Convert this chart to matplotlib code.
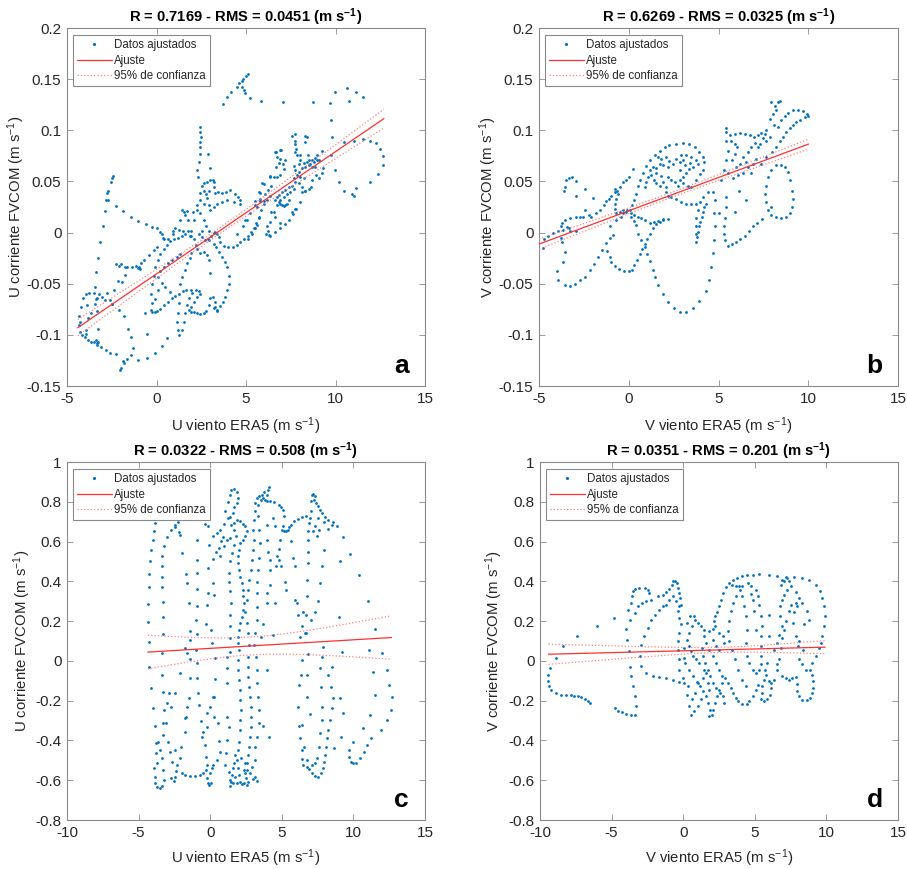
import numpy as np
import matplotlib
matplotlib.use("Agg")
import matplotlib.pyplot as plt
from matplotlib.ticker import FuncFormatter, MultipleLocator
from matplotlib.lines import Line2D

plt.rcParams['font.family'] = ['Liberation Sans', 'DejaVu Sans']
plt.rcParams['mathtext.fontset'] = 'custom'
plt.rcParams['mathtext.rm'] = 'Liberation Sans'
plt.rcParams['mathtext.it'] = 'Liberation Sans:italic'
plt.rcParams['mathtext.bf'] = 'Liberation Sans:bold'
plt.rcParams['axes.unicode_minus'] = False

# ---------------------------------------------------------------- data
# (a) U component: ERA5 wind (m/s) vs FVCOM current (m/s)
u_sup_pts = [
    (-2.42, 0.055), (-2.47, 0.053), (-2.56, 0.049), (-2.70, 0.041), (-2.75, 0.039), (-2.71, 0.032),
    (-2.83, 0.032), (-2.88, 0.021), (-3.00, 0.006), (-3.18, -0.009), (-3.29, -0.025), (-3.38, -0.039),
    (-3.42, -0.053), (-3.40, -0.065), (-3.33, -0.077), (-3.29, -0.094), (-3.27, -0.107),
    (-2.27, 0.026), (-1.88, 0.021), (-1.45, 0.015), (-1.04, 0.011), (-0.58, 0.008), (-0.24, 0.005),
    (0.00, 0.004), (0.19, 0.001), (0.32, -0.001), (0.35, -0.005), (0.41, -0.006), (0.65, -0.006), (0.93, 0.002),
    (-2.27, -0.031), (-2.12, -0.033), (-1.97, -0.031), (-1.78, -0.034), (-1.64, -0.034), (-1.36, -0.034),
    (-1.12, -0.033), (-0.97, -0.034), (-0.93, -0.036), (-1.06, -0.035), (-0.86, -0.030), (-0.71, -0.027),
    (-0.43, -0.022), (-0.15, -0.017), (0.04, -0.014),
    (-1.78, -0.041), (-2.14, -0.047), (-2.38, -0.056), (-2.57, -0.066), (-2.47, -0.070), (-2.10, -0.076),
    (-1.82, -0.082), (-1.60, -0.094), (-1.45, -0.102), (-1.30, -0.113), (-1.45, -0.120), (-1.64, -0.124),
    (-1.82, -0.128), (-1.97, -0.132), (-2.04, -0.134), (-1.86, -0.126), (-1.02, -0.125), (-0.52, -0.123),
    (-0.11, -0.118), (0.28, -0.111), (0.60, -0.103),
    (-4.33, -0.090), (-4.31, -0.082), (-4.24, -0.073), (-4.13, -0.064), (-3.96, -0.060), (-3.77, -0.059),
    (-3.50, -0.059), (-3.22, -0.060), (-3.03, -0.063), (-2.90, -0.066), (-2.75, -0.059), (-2.50, -0.070),
    (-4.28, -0.097), (-4.18, -0.100), (-4.02, -0.102), (-3.83, -0.105), (-3.65, -0.107), (-3.48, -0.107),
    (-3.33, -0.108), (-3.40, -0.105), (-3.33, -0.110), (-3.92, -0.095), (-3.96, -0.099), (-3.81, -0.084),
    (-3.68, -0.079), (-3.44, -0.070), (-3.31, -0.064), (-3.12, -0.112), (-2.84, -0.115), (-2.57, -0.118),
    (-2.29, -0.119), (-4.30, -0.087), (-3.87, -0.071),
    (-0.54, -0.099), (-0.63, -0.079), (-0.11, -0.065), (0.11, -0.056), (-1.93, -0.048),
    (2.42, 0.103), (2.45, 0.098), (2.51, 0.093), (2.45, 0.089), (2.45, 0.084), (2.42, 0.077), (2.85, 0.077),
    (2.38, 0.069), (2.27, 0.061), (2.97, 0.063), (2.32, 0.054), (2.55, 0.046), (2.68, 0.048), (2.83, 0.049),
    (3.01, 0.051), (3.14, 0.051), (3.20, 0.049), (3.20, 0.045), (2.92, 0.041), (2.64, 0.041), (2.45, 0.039),
    (2.77, 0.038), (2.83, 0.034), (3.25, 0.039), (3.42, 0.040), (3.66, 0.039), (3.90, 0.040), (4.13, 0.042),
    (4.37, 0.038), (4.54, 0.035), (4.68, 0.032), (4.65, 0.028), (4.31, 0.030), (3.94, 0.032), (3.66, 0.030),
    (3.38, 0.028), (3.20, 0.025), (3.01, 0.022), (2.92, 0.027), (2.68, 0.028), (2.45, 0.032), (2.27, 0.027),
    (2.05, 0.020), (1.71, 0.021), (1.52, 0.020), (1.62, 0.017), (1.75, 0.012), (1.90, 0.002), (1.95, -0.003),
    (2.08, -0.006), (2.19, -0.012), (2.27, -0.016), (2.42, -0.020), (2.71, -0.007), (2.86, -0.006),
    (3.07, -0.003), (3.20, 0.000), (3.29, 0.001), (3.38, -0.001), (3.48, -0.004), (3.57, -0.009),
    (3.75, -0.013), (4.00, -0.014), (4.26, -0.014), (4.50, -0.012), (4.68, -0.009), (4.87, -0.006),
    (5.11, -0.003), (5.28, 0.001), (5.43, 0.004), (5.58, 0.009), (5.71, 0.015), (5.86, 0.022), (5.99, 0.028),
    (6.17, 0.032), (6.36, 0.036),
    (1.93, -0.020), (1.86, -0.025), (1.71, -0.030), (1.58, -0.037), (1.43, -0.043), (1.34, -0.050),
    (1.28, -0.060), (1.25, -0.069), (1.19, -0.079), (1.15, -0.087), (1.21, -0.095), (1.28, -0.100),
    (1.40, -0.095), (1.52, -0.087), (1.62, -0.079), (1.71, -0.071), (1.80, -0.064), (1.99, -0.059),
    (2.18, -0.056), (2.40, -0.057), (2.42, -0.060), (2.27, -0.063), (2.08, -0.068), (1.90, -0.073),
    (1.80, -0.076), (1.90, -0.078), (2.08, -0.078), (2.27, -0.079), (2.45, -0.080), (2.64, -0.079),
    (2.77, -0.077), (2.92, -0.071), (3.01, -0.064), (3.16, -0.063), (3.25, -0.068), (3.29, -0.073),
    (3.38, -0.076), (3.20, -0.074),
    (-0.33, -0.076), (-0.24, -0.078), (-0.11, -0.078), (0.04, -0.077), (0.22, -0.075), (0.41, -0.071),
    (0.63, -0.068), (0.87, -0.064), (1.06, -0.062), (1.49, -0.057), (1.67, -0.056), (1.90, -0.056),
    (-0.24, -0.069), (-0.30, -0.060), (-0.24, -0.050), (-0.15, -0.042), (-0.06, -0.034), (0.07, -0.027),
    (0.22, -0.021), (0.41, -0.016), (0.60, -0.012), (0.78, -0.008), (0.97, -0.006), (1.21, -0.005),
    (1.43, -0.003), (1.62, -0.001), (1.77, 0.002),
    (1.34, -0.021), (1.12, -0.024), (0.87, -0.027), (0.65, -0.030), (0.41, -0.034), (0.19, -0.038),
    (0.07, -0.043), (0.28, -0.049), (0.50, -0.053), (0.78, -0.058),
    (1.40, 0.022), (1.30, 0.012), (1.06, 0.004), (0.93, -0.001), (1.25, 0.003), (1.49, 0.002), (1.86, -0.003),
    (2.08, 0.012), (2.27, 0.022), (2.45, 0.019), (2.68, 0.012), (2.79, 0.006), (2.96, 0.002), (2.55, 0.002),
    (2.36, -0.001), (2.55, -0.004), (2.92, -0.007), (3.20, -0.011), (3.35, -0.014), (3.51, -0.019),
    (3.66, -0.024), (3.81, -0.029), (3.94, -0.034), (4.03, -0.042), (4.03, -0.050), (3.94, -0.056),
    (3.85, -0.063), (3.72, -0.068), (3.57, -0.072), (3.38, -0.077), (3.01, -0.040), (2.96, -0.027),
    (2.83, -0.022), (2.68, -0.019),
    (5.24, 0.019), (5.52, 0.027), (5.80, 0.033), (6.04, 0.038), (6.23, 0.042), (6.40, 0.046), (6.54, 0.054),
    (6.69, 0.064), (6.92, 0.072), (6.95, 0.081), (6.65, 0.079), (6.36, 0.054), (5.91, 0.048), (5.61, 0.025),
    (5.06, 0.012), (4.83, 0.006), (4.50, -0.001),
    (7.57, 0.094), (7.76, 0.096), (7.72, 0.090), (7.76, 0.087), (7.80, 0.082), (7.76, 0.079), (7.85, 0.076),
    (8.04, 0.076), (8.28, 0.094), (8.41, 0.093), (8.28, 0.089), (8.47, 0.076), (8.50, 0.071), (8.69, 0.071),
    (8.84, 0.073), (8.97, 0.071), (8.78, 0.069), (8.60, 0.067), (8.41, 0.069), (8.22, 0.068), (8.04, 0.071),
    (7.94, 0.067), (7.67, 0.065), (7.76, 0.061), (7.94, 0.059), (8.13, 0.063), (8.32, 0.064), (8.50, 0.066),
    (8.69, 0.064), (7.85, 0.056), (8.04, 0.054), (8.22, 0.053), (7.67, 0.053), (7.76, 0.049), (7.57, 0.046),
    (7.39, 0.045), (7.20, 0.042), (7.01, 0.040), (6.83, 0.037), (6.73, 0.035), (6.64, 0.032), (6.92, 0.032),
    (7.11, 0.035), (7.29, 0.038), (7.48, 0.040), (7.67, 0.043), (7.94, 0.048), (8.13, 0.045), (8.32, 0.041),
    (9.06, 0.053), (9.25, 0.058), (9.28, 0.063), (9.25, 0.080), (8.97, 0.076), (9.10, 0.071), (8.87, 0.064),
    (6.64, 0.079), (6.92, 0.081), (6.73, 0.074), (6.83, 0.068), (7.05, 0.067), (7.20, 0.071), (7.14, 0.062),
    (6.92, 0.056), (6.73, 0.054), (6.36, 0.055), (6.03, 0.047), (5.71, 0.040), (5.80, 0.039), (5.49, 0.031),
    (5.80, 0.031), (5.99, 0.031), (6.83, 0.030), (6.73, 0.027), (6.92, 0.028), (7.01, 0.027), (7.11, 0.026),
    (7.20, 0.027), (7.29, 0.028), (7.39, 0.032), (6.55, 0.020), (6.42, 0.020), (6.60, 0.015), (6.36, 0.010),
    (6.23, 0.002), (6.14, -0.001), (6.27, -0.002), (6.36, -0.003), (6.64, 0.001), (6.88, 0.004), (7.16, 0.008),
    (7.39, 0.012), (7.63, 0.018), (7.81, 0.023), (8.04, 0.030), (8.32, 0.041), (8.69, 0.051), (8.91, 0.056),
    (5.34, -0.001), (5.49, 0.004), (5.62, 0.007), (5.75, 0.014), (5.12, -0.006), (4.97, 0.012), (6.18, 0.006),
    (6.92, 0.009), (7.57, 0.020), (7.76, 0.023), (8.13, 0.040), (8.50, 0.043), (8.65, 0.045),
    (9.95, 0.061), (10.18, 0.049), (10.49, 0.041), (10.92, 0.038), (11.01, 0.036), (11.16, 0.044),
    (11.91, 0.049), (12.37, 0.057), (12.63, 0.066), (12.65, 0.075), (12.50, 0.082), (12.28, 0.088),
    (11.94, 0.090), (11.52, 0.091), (11.01, 0.090), (10.46, 0.089), (9.80, 0.093), (9.77, 0.110),
    (9.71, 0.127), (9.99, 0.137), (10.64, 0.141), (10.73, 0.129), (11.14, 0.137), (11.53, 0.133),
    (8.73, 0.128), (7.05, 0.128), (5.86, 0.129), (5.21, 0.132), (4.97, 0.136), (9.77, 0.076),
    (3.70, 0.126), (3.93, 0.133), (4.17, 0.137), (4.48, 0.142), (4.61, 0.146), (4.76, 0.148), (4.86, 0.150),
    (4.99, 0.153), (5.13, 0.155), (4.80, 0.142), (4.91, 0.139),
]

# (b) V component
v_sup_pts = [
    (-3.57, 0.045), (-3.61, 0.041), (-3.48, 0.051), (-3.33, 0.053), (-3.15, 0.054), (-2.96, 0.050),
    (-2.92, 0.036), (-2.46, 0.043), (-1.99, 0.034), (-2.46, 0.022), (-2.92, 0.015), (-3.30, 0.014),
    (-3.57, 0.012), (-3.72, 0.009), (-3.76, 0.006), (-3.67, 0.003), (-3.44, 0.005), (-3.35, 0.004),
    (-3.26, 0.002), (-2.92, 0.002), (-2.74, 0.015), (-2.55, 0.015), (-2.22, 0.017), (-2.09, 0.015),
    (-1.81, 0.019), (-1.62, 0.022), (-1.40, 0.027), (-1.25, 0.031), (-1.10, 0.033), (-0.97, 0.036),
    (-0.79, 0.040), (-0.66, 0.041), (-0.51, 0.045), (-0.33, 0.049), (-0.18, 0.051), (0.01, 0.054), (0.23, 0.062),
    (-4.80, -0.015), (-4.73, -0.006), (-4.48, -0.003), (-4.22, 0.000), (-3.95, 0.002), (-3.76, -0.005),
    (-3.72, -0.009), (-3.57, -0.019), (-3.67, -0.029), (-3.98, -0.038), (-3.92, -0.046), (-3.57, -0.051),
    (-3.30, -0.052), (-3.02, -0.050), (-2.74, -0.046), (-2.46, -0.043), (-2.18, -0.037), (-1.96, -0.031),
    (-1.72, -0.024), (-1.48, -0.017), (-1.25, -0.010), (-1.07, -0.005), (-0.88, -0.002),
    (-1.20, -0.018), (-1.07, -0.024), (-0.97, -0.029), (-0.79, -0.033), (-0.55, -0.036), (-0.27, -0.038),
    (0.00, -0.038), (0.19, -0.037), (0.32, -0.032), (0.45, -0.027), (0.60, -0.021), (0.73, -0.016),
    (0.88, -0.011), (1.01, -0.006), (1.16, -0.001), (1.35, 0.004), (1.53, 0.008), (1.72, 0.010), (1.90, 0.012),
    (2.18, 0.013),
    (0.51, -0.001), (0.70, -0.007), (0.88, -0.014), (1.03, -0.021), (1.16, -0.028), (1.35, -0.037),
    (1.48, -0.043), (1.63, -0.051), (1.90, -0.060), (2.18, -0.068), (2.50, -0.074), (2.83, -0.078),
    (3.17, -0.078), (3.57, -0.074), (3.94, -0.067), (4.28, -0.057), (4.47, -0.046), (4.56, -0.034),
    (4.69, -0.020), (4.75, -0.007), (4.79, 0.006), (4.75, 0.019), (4.79, 0.032), (4.69, 0.040), (4.41, 0.040),
    (4.13, 0.035), (3.76, 0.028), (3.48, 0.028), (3.20, 0.028), (2.92, 0.030), (2.65, 0.033), (2.37, 0.035),
    (2.18, 0.036), (2.09, 0.040), (2.09, 0.045),
    (0.79, 0.058), (0.97, 0.065), (1.20, 0.071), (1.44, 0.076), (1.72, 0.080), (2.00, 0.084), (2.27, 0.086),
    (2.65, 0.087), (3.02, 0.088), (3.35, 0.087), (3.67, 0.084), (3.94, 0.079), (4.13, 0.074), (4.22, 0.069),
    (2.92, 0.076), (3.20, 0.076), (3.48, 0.074), (3.72, 0.071), (3.85, 0.067), (3.02, 0.071), (2.83, 0.069),
    (2.65, 0.072), (2.46, 0.067), (2.18, 0.064), (1.90, 0.066), (1.72, 0.067), (1.53, 0.063), (1.35, 0.064),
    (1.16, 0.061), (1.07, 0.054), (0.97, 0.049), (0.88, 0.045), (0.64, 0.051), (0.51, 0.046), (0.42, 0.038),
    (0.32, 0.032), (0.19, 0.027), (0.05, 0.022), (-0.14, 0.020), (-0.33, 0.019), (-0.51, 0.020),
    (-0.70, 0.019), (-0.79, 0.023), (-0.75, 0.028), (-0.70, 0.033), (-0.60, 0.038), (-0.79, 0.043),
    (0.14, 0.019), (0.32, 0.017), (0.51, 0.015), (0.70, 0.014), (0.88, 0.012), (1.16, 0.009), (1.38, 0.010),
    (1.62, 0.011), (1.90, 0.013),
    (1.53, 0.058), (1.81, 0.055), (1.90, 0.049), (1.72, 0.046), (1.53, 0.048), (1.38, 0.051), (1.25, 0.056),
    (2.18, 0.054), (2.37, 0.051), (2.55, 0.049), (2.74, 0.046), (2.87, 0.051), (3.02, 0.054), (3.20, 0.058),
    (3.35, 0.062), (3.57, 0.064), (2.83, 0.061), (3.11, 0.066), (3.39, 0.068), (2.27, 0.070), (2.05, 0.074),
    (1.81, 0.072), (1.62, 0.074), (3.02, 0.048), (3.30, 0.046), (3.48, 0.045), (3.76, 0.051), (3.98, 0.057),
    (4.13, 0.061),
    (5.43, 0.102), (5.40, 0.098), (5.43, 0.090), (5.53, 0.080), (5.43, 0.071), (5.29, 0.061), (5.16, 0.051),
    (5.62, 0.095), (5.90, 0.096), (6.18, 0.097), (6.46, 0.096), (6.74, 0.095), (6.95, 0.093), (7.20, 0.095),
    (7.38, 0.097), (7.57, 0.096), (7.47, 0.092), (7.29, 0.087), (7.20, 0.084), (7.01, 0.088), (6.83, 0.084),
    (6.65, 0.079), (6.36, 0.074), (6.18, 0.067), (5.95, 0.064), (5.77, 0.071), (5.90, 0.077), (6.03, 0.084),
    (5.90, 0.087), (5.71, 0.090),
    (5.53, 0.058), (5.80, 0.053), (6.08, 0.056), (6.36, 0.058), (6.64, 0.064), (6.55, 0.069), (6.92, 0.067),
    (7.10, 0.072), (6.83, 0.058),
    (7.94, 0.128), (8.12, 0.124), (8.31, 0.128), (8.40, 0.129), (8.22, 0.120), (8.03, 0.116), (7.88, 0.111),
    (8.07, 0.105), (8.31, 0.103), (8.50, 0.110), (8.68, 0.114), (8.87, 0.117), (9.15, 0.120), (9.42, 0.120),
    (9.70, 0.119), (9.93, 0.116), (9.98, 0.114), (9.80, 0.113), (9.52, 0.110), (9.33, 0.108), (9.15, 0.105),
    (8.96, 0.102), (8.77, 0.098), (8.59, 0.093), (8.40, 0.090), (8.22, 0.084), (8.00, 0.079), (7.66, 0.074),
    (7.38, 0.067), (7.85, 0.093), (7.66, 0.100), (7.66, 0.090),
    (8.18, 0.066), (7.94, 0.061), (7.75, 0.054), (7.62, 0.046), (7.57, 0.038), (7.62, 0.030), (7.75, 0.022),
    (7.94, 0.017), (8.22, 0.015), (8.50, 0.014), (8.77, 0.015), (8.96, 0.019), (9.11, 0.025), (9.15, 0.033),
    (9.11, 0.041), (9.00, 0.051), (8.87, 0.059), (8.68, 0.064), (8.46, 0.066), (7.94, 0.025),
    (5.53, -0.013), (5.77, -0.011), (5.99, -0.009), (6.21, -0.006), (6.45, -0.003), (6.68, 0.002),
    (6.92, 0.006), (7.16, 0.009), (7.42, 0.013), (5.34, -0.007), (5.29, -0.001), (5.29, 0.006),
    (5.34, 0.014), (5.40, 0.025), (5.43, 0.035),
    (3.76, -0.009), (3.81, -0.004), (3.85, 0.001), (3.90, 0.006), (3.98, 0.010), (4.07, 0.015), (4.13, 0.020),
    (4.22, 0.025), (4.32, 0.028), (3.76, -0.001), (3.72, 0.006), (3.76, 0.014), (3.85, 0.022), (3.98, 0.030),
    (5.02, 0.019), (5.90, 0.020), (6.55, 0.032), (6.14, 0.041),
    (-0.10, 0.022), (-0.33, 0.022), (0.14, 0.015), (0.29, 0.011), (0.42, 0.007), (-0.42, 0.015),
    (-0.70, 0.012), (-1.07, 0.006),
]

# (c) U component, bottom layer
u_fondo_pts = [
    (-4.37, 0.195), (-4.35, 0.285), (-4.28, 0.371), (-4.26, 0.438), (-4.19, 0.500), (-4.12, 0.559),
    (-4.02, 0.609), (-3.95, 0.651), (-3.84, 0.693), (-3.72, 0.718), (-3.53, 0.735), (-3.26, 0.738),
    (-2.95, 0.735), (-2.67, 0.723), (-4.30, 0.094), (-4.26, -0.029), (-4.14, -0.134), (-4.00, -0.237),
    (-3.88, -0.327), (-3.79, -0.414), (-3.77, -0.465), (-3.72, -0.515), (-3.91, -0.540), (-3.88, -0.582),
    (-3.84, -0.616), (-3.72, -0.633), (-3.53, -0.641), (-3.37, -0.629), (-3.26, -0.599), (-3.33, -0.549),
    (-3.37, -0.490), (-3.53, -0.448), (-3.67, -0.406), (-3.33, -0.372), (-3.30, -0.314), (-3.26, -0.247),
    (-3.30, -0.154), (-3.37, -0.070), (-3.37, 0.039), (-3.33, 0.136), (-3.30, 0.223), (-3.30, 0.294),
    (-3.35, 0.374), (-3.35, 0.424), (-3.37, 0.475), (-3.37, 0.529), (-3.26, 0.576), (-3.02, 0.622),
    (-2.74, 0.659), (-2.44, 0.685), (-2.26, 0.700), (-1.98, 0.718), (-1.79, 0.723), (-1.63, 0.727),
    (-3.09, -0.314), (-2.95, -0.406), (-2.79, -0.456), (-2.67, -0.507), (-2.72, -0.591), (-2.56, -0.602),
    (-2.44, -0.582), (-2.37, -0.552), (-2.33, -0.523), (-1.98, -0.565), (-1.74, -0.574), (-1.40, -0.579),
    (-1.05, -0.579), (-0.70, -0.574), (-0.47, -0.565), (-0.28, -0.549), (-0.19, -0.591), (-0.12, -0.616),
    (-0.05, -0.624), (0.05, -0.612), (-2.74, -0.230), (-2.91, -0.163), (-3.02, -0.213),
    (-2.09, -0.490), (-2.02, -0.431), (-1.79, -0.356), (-1.67, -0.280), (-1.63, -0.230), (-1.51, -0.188),
    (-1.44, -0.087), (-1.40, 0.008), (-1.44, 0.148), (-1.51, 0.290), (-1.63, 0.391), (-1.67, 0.438),
    (-1.98, 0.542), (-2.09, 0.634), (-2.21, 0.646), (-2.44, 0.671), (-1.74, 0.727), (-1.51, 0.752),
    (-1.28, 0.763), (-1.05, 0.760), (-0.81, 0.747), (-0.51, 0.718), (-0.35, 0.688),
    (-0.93, 0.609), (-0.93, 0.508), (-0.93, 0.441), (-0.93, 0.361), (-0.93, 0.277), (-0.98, 0.206),
    (-0.93, 0.136), (-0.98, 0.055), (-0.93, -0.012), (-0.93, -0.087), (-0.88, -0.163), (-0.81, -0.221),
    (-0.65, -0.300), (-0.47, -0.356), (-0.35, -0.423), (-0.28, -0.482), (-0.19, -0.523),
    (-2.44, -0.448), (-1.79, -0.288), (-2.44, -0.163), (-2.09, -0.062), (-1.63, 0.039), (-1.44, 0.106),
    (-1.79, 0.064),
    (-0.12, 0.676), (-0.05, 0.584), (-0.12, 0.466), (-0.12, 0.341), (-0.19, 0.279), (-0.30, 0.186),
    (0.28, 0.332), (0.23, 0.394), (0.23, 0.512), (0.42, 0.545), (0.58, 0.567), (0.74, 0.601), (0.88, 0.621),
    (0.47, 0.643), (0.70, 0.659), (0.23, 0.626), (0.05, 0.156), (0.12, 0.089), (0.35, 0.013), (0.35, -0.092),
    (0.28, -0.180), (0.19, -0.180), (0.00, -0.230), (-0.23, -0.263), (-0.23, -0.331), (-0.58, -0.381),
    (0.30, -0.284), (0.51, -0.314), (0.58, -0.401), (0.70, -0.456), (0.47, -0.498), (0.23, -0.523),
    (0.12, -0.540), (0.00, -0.565),
    (0.70, 0.525), (0.93, 0.576), (1.16, 0.609), (1.35, 0.617), (0.98, 0.690), (1.26, 0.718), (1.05, 0.752),
    (1.21, 0.797), (1.35, 0.836), (1.47, 0.861), (1.67, 0.864), (1.86, 0.847), (1.93, 0.819), (1.86, 0.794),
    (1.67, 0.773), (1.56, 0.743), (1.35, 0.723), (1.47, 0.685), (1.63, 0.659), (1.81, 0.626), (1.63, 0.584),
    (1.51, 0.542), (1.40, 0.500), (1.28, 0.441), (1.28, 0.399), (1.40, 0.349), (1.44, 0.290), (1.40, 0.232),
    (1.40, 0.173), (1.40, 0.114), (1.40, 0.047), (1.16, 0.022), (1.16, -0.037), (1.16, -0.112),
    (1.16, -0.280), (1.28, -0.331), (1.16, -0.398), (1.12, -0.465), (1.00, -0.523), (1.28, -0.557),
    (1.35, -0.599), (1.40, -0.629), (1.44, -0.607), (1.51, -0.574), (1.58, -0.540),
    (1.63, 0.693), (1.86, 0.710), (2.09, 0.701), (2.28, 0.688), (2.44, 0.676), (2.56, 0.651), (2.44, 0.629),
    (2.28, 0.609), (2.09, 0.592), (1.98, 0.559), (1.91, 0.525), (1.91, 0.492), (1.98, 0.458), (2.09, 0.424),
    (2.21, 0.391), (2.26, 0.357), (2.28, 0.324), (2.33, 0.290), (2.28, 0.257), (2.21, 0.223), (2.09, 0.190),
    (1.98, 0.156), (1.91, 0.122), (1.91, 0.089), (1.98, 0.055), (1.91, 0.005), (1.91, -0.045), (1.98, -0.096),
    (2.05, -0.146), (2.09, -0.196), (2.14, -0.247), (2.09, -0.297), (2.05, -0.347), (1.98, -0.406),
    (1.91, -0.448), (1.86, -0.498), (1.91, -0.540), (1.98, -0.574), (2.09, -0.607), (2.21, -0.619),
    (2.37, -0.616), (2.51, -0.591), (2.56, -0.549), (2.60, -0.515), (2.67, -0.473), (2.72, -0.431),
    (2.79, -0.381), (2.84, -0.331), (2.84, -0.280), (2.84, -0.230), (2.79, -0.180), (2.74, -0.129),
    (2.67, -0.079), (2.67, -0.029), (2.67, 0.022), (2.74, 0.081), (2.67, 0.139), (2.56, 0.190), (2.44, 0.248),
    (2.56, 0.307), (2.67, 0.357), (2.74, 0.408), (2.84, 0.458), (2.95, 0.508), (3.02, 0.559), (3.07, 0.609),
    (3.02, 0.659), (3.07, 0.706), (3.14, 0.752), (3.14, 0.794), (3.26, 0.819), (3.44, 0.827), (3.60, 0.836),
    (3.72, 0.819), (3.84, 0.810), (3.95, 0.836), (4.07, 0.861), (4.14, 0.874), (3.77, 0.847), (3.53, 0.810),
    (3.37, 0.785), (3.37, 0.727), (3.44, 0.659), (3.49, 0.592), (3.44, 0.517), (3.37, 0.458), (3.30, 0.399),
    (3.26, 0.341), (3.26, 0.273), (3.26, 0.206), (3.14, 0.139), (3.07, 0.081), (3.21, 0.022), (3.26, -0.045),
    (3.30, -0.112), (3.37, -0.180), (3.44, -0.247), (3.44, -0.314), (3.26, -0.381), (3.14, -0.431),
    (3.14, -0.498), (3.14, -0.582), (3.02, -0.596), (3.26, -0.602),
    (1.63, -0.515), (1.74, -0.582), (1.86, -0.616), (2.33, -0.549), (2.44, -0.515), (2.16, -0.490),
    (1.74, -0.473), (1.58, -0.616), (2.56, -0.624), (2.44, -0.565), (2.79, -0.565), (2.91, -0.532),
    (2.67, -0.607),
    (3.95, 0.802), (4.19, 0.802), (4.47, 0.797), (4.77, 0.785), (4.95, 0.773), (5.07, 0.757), (5.12, 0.727),
    (5.07, 0.676), (5.00, 0.659), (5.12, 0.651), (5.28, 0.654), (5.40, 0.656), (5.47, 0.671), (5.63, 0.685),
    (5.86, 0.701), (6.12, 0.713), (6.40, 0.723), (6.70, 0.730),
    (4.88, 0.609), (4.77, 0.562), (4.65, 0.525), (4.60, 0.475), (4.77, 0.508), (4.93, 0.475), (5.23, 0.399),
    (5.30, 0.357), (3.95, 0.685), (3.95, 0.609), (4.07, 0.550), (4.19, 0.508), (4.19, 0.458), (4.19, 0.383),
    (3.95, 0.341), (4.00, 0.290), (3.72, 0.185), (3.53, 0.122), (4.37, 0.131), (4.53, 0.290), (3.95, -0.045),
    (4.14, -0.381), (3.72, -0.327), (4.42, 0.718), (4.53, 0.676), (5.63, 0.601), (5.81, 0.517), (5.93, 0.475),
    (5.93, 0.307), (6.05, 0.290), (6.16, 0.232), (6.28, 0.122), (6.40, 0.005), (6.35, -0.072), (6.23, -0.121),
    (6.12, -0.230), (6.21, -0.327), (6.28, -0.389), (6.40, -0.448), (6.40, -0.495), (6.51, -0.523),
    (6.74, -0.532), (6.93, -0.545), (7.09, -0.565), (7.33, -0.579), (7.56, -0.582), (7.74, -0.565),
    (7.86, -0.540), (7.95, -0.507), (8.02, -0.473), (8.09, -0.431), (8.14, -0.389), (8.26, -0.347),
    (8.37, -0.297), (8.49, -0.238), (8.60, -0.188), (8.44, -0.129), (8.49, -0.029), (8.26, -0.070),
    (7.86, 0.072), (7.79, 0.022), (7.67, -0.037), (7.72, -0.129), (7.79, -0.230), (7.79, -0.297),
    (7.67, -0.364), (7.63, -0.431), (7.44, -0.490), (7.33, -0.515), (7.09, -0.523), (6.74, -0.498),
    (6.56, -0.431), (6.40, -0.322), (6.98, -0.267), (6.74, -0.180), (6.74, -0.070), (6.81, 0.035),
    (6.63, 0.139), (6.70, 0.232), (6.74, 0.324), (6.79, 0.408), (6.86, 0.492), (6.86, 0.550), (6.86, 0.609),
    (6.86, 0.651), (6.93, 0.693), (6.98, 0.718), (7.02, 0.752), (7.02, 0.802), (7.09, 0.836), (7.21, 0.841),
    (7.33, 0.827), (7.26, 0.810), (7.40, 0.794), (7.56, 0.777), (7.67, 0.760), (7.79, 0.743), (8.02, 0.723),
    (8.26, 0.710), (8.49, 0.685), (8.84, 0.676), (9.26, 0.622), (9.07, 0.500), (9.02, 0.223), (9.19, 0.047),
    (9.07, -0.188), (9.30, -0.260), (9.12, -0.381), (8.65, -0.440),
    (7.56, 0.718), (7.33, 0.676), (7.21, 0.651), (7.44, 0.626), (7.63, 0.659), (7.95, 0.697), (8.26, 0.663),
    (8.60, 0.696), (7.95, 0.559), (7.79, 0.475), (7.67, 0.394), (7.56, 0.299), (7.33, 0.248), (7.05, 0.206),
    (6.70, 0.139), (6.40, 0.173), (6.51, 0.248),
    (9.77, 0.539), (10.42, 0.430), (11.05, 0.299), (11.51, 0.159), (11.98, 0.042), (12.33, -0.045),
    (12.51, -0.121), (12.67, -0.180), (12.60, -0.247), (12.37, -0.297), (11.91, -0.347), (11.21, -0.389),
    (10.93, -0.423), (10.74, -0.456), (10.47, -0.490), (10.19, -0.512), (9.95, -0.515), (9.81, -0.507),
    (9.72, -0.482), (9.72, -0.448), (9.95, -0.406), (10.70, -0.339), (11.16, -0.272), (11.51, -0.171),
    (11.40, -0.054), (11.12, 0.055),
]

# (d) V component, bottom layer
v_fondo_pts = [
    (-9.47, -0.072), (-9.47, -0.102), (-9.38, -0.127), (-9.20, -0.144), (-8.85, -0.161), (-8.50, -0.169),
    (-8.15, -0.173), (-7.87, -0.174), (-7.64, -0.178), (-7.34, -0.178), (-7.11, -0.183), (-6.88, -0.191),
    (-6.65, -0.203), (-6.48, -0.211), (-9.31, -0.034), (-8.89, 0.015), (-8.38, 0.074), (-7.45, 0.124),
    (-6.02, 0.174), (-4.86, 0.216),
    (-4.76, -0.236), (-4.56, -0.250), (-4.26, -0.258), (-3.98, -0.265), (-3.63, -0.273), (-3.40, -0.273),
    (-3.33, -0.228), (-3.40, -0.178), (-3.51, -0.127), (-3.63, -0.077), (-3.75, -0.030), (-3.79, 0.049),
    (-3.93, 0.107), (-3.98, 0.161), (-3.75, 0.208), (-3.82, 0.258), (-3.63, 0.291), (-3.56, 0.325),
    (-3.51, 0.350), (-3.35, 0.362), (-3.10, 0.367), (-2.70, 0.367), (-2.47, 0.358), (-2.36, 0.342),
    (-3.40, 0.241), (-3.17, 0.275), (-2.86, 0.291), (-2.59, 0.300), (-2.24, 0.308), (-1.77, 0.325),
    (-1.42, 0.333), (-1.19, 0.347), (-0.96, 0.362), (-0.78, 0.384), (-0.68, 0.400), (-0.54, 0.404),
    (-0.45, 0.392), (-0.38, 0.367), (-0.31, 0.342), (-0.20, 0.317), (-0.15, 0.283), (-0.50, 0.300),
    (-0.73, 0.325), (-0.96, 0.308), (-1.19, 0.283), (-1.42, 0.275), (-1.70, 0.258), (-2.00, 0.233),
    (-2.24, 0.208), (-2.47, 0.166), (-2.75, 0.124), (-2.93, 0.082), (-3.00, 0.023), (-2.93, -0.027),
    (-2.59, -0.060), (-2.12, -0.074), (-1.66, -0.080), (-1.19, -0.085), (-0.73, -0.097), (-0.27, -0.106),
    (0.08, -0.111), (0.31, -0.127), (0.24, -0.169), (0.38, -0.228), (0.55, -0.270), (0.78, -0.253),
    (1.01, -0.228), (1.24, -0.194),
    (-0.31, 0.275), (-0.38, 0.250), (-0.27, 0.216), (-0.15, 0.183), (-0.27, 0.141), (-0.38, 0.099),
    (-0.38, 0.057), (-0.31, 0.007), (-0.27, -0.044), (-0.03, -0.085), (0.24, 0.191), (0.48, 0.224),
    (0.78, 0.228), (0.85, 0.208), (0.62, 0.174), (0.38, 0.141), (0.24, 0.107), (0.08, 0.065), (0.08, 0.015),
    (0.15, -0.010), (0.38, -0.044), (0.66, -0.077), (0.94, -0.107), (1.17, -0.127), (1.40, -0.152),
    (1.59, -0.178), (1.70, -0.211), (1.86, -0.245), (1.82, -0.275), (2.00, -0.270), (2.10, -0.245),
    (2.21, -0.211), (2.33, -0.178), (2.51, -0.144), (2.70, -0.111), (2.91, -0.085), (3.10, -0.111),
    (3.33, -0.136), (3.49, -0.161), (3.68, -0.186), (3.86, -0.203), (4.14, -0.219), (4.44, -0.219),
    (4.60, -0.203), (4.84, -0.178), (5.07, -0.144), (5.25, -0.119),
    (1.01, 0.191), (1.24, 0.174), (1.47, 0.157), (1.77, 0.149), (2.05, 0.161), (2.24, 0.174), (2.17, 0.199),
    (2.24, 0.224), (2.33, 0.245), (2.51, 0.275), (2.63, 0.308), (2.79, 0.342), (2.98, 0.372), (3.21, 0.392),
    (3.49, 0.409), (3.79, 0.417), (4.14, 0.425), (4.49, 0.430), (4.84, 0.434), (5.30, 0.437), (6.00, 0.434),
    (6.57, 0.425), (7.15, 0.420), (7.73, 0.422), (8.31, 0.417), (8.78, 0.405), (9.24, 0.384), (9.52, 0.350),
    (9.70, 0.317), (9.86, 0.275), (9.89, 0.224), (9.82, 0.174), (9.70, 0.127), (9.59, 0.090), (9.47, 0.065),
    (9.24, 0.023), (9.01, -0.010), (8.83, -0.044), (9.01, -0.069), (9.06, -0.102), (9.08, -0.136),
    (9.01, -0.161), (8.85, -0.186), (8.66, -0.198), (8.31, -0.198), (8.08, -0.178), (7.96, -0.152),
    (7.96, -0.114), (7.85, -0.080), (7.61, -0.085), (7.38, -0.094), (7.15, -0.085), (6.92, -0.077),
    (8.59, -0.044), (8.31, -0.018), (8.08, 0.007), (8.01, 0.074), (7.89, 0.124), (7.66, 0.191), (7.73, 0.245),
    (7.96, 0.278), (7.85, 0.291), (7.50, 0.283), (7.38, 0.250), (7.15, 0.199), (7.04, 0.157), (6.92, 0.116),
    (6.80, 0.065), (6.69, 0.007), (6.57, -0.018), (6.80, 0.384), (6.92, 0.409), (7.04, 0.400), (7.27, 0.417),
    (7.38, 0.400), (7.50, 0.375), (7.27, 0.358), (7.04, 0.333), (6.88, 0.308), (6.76, 0.275), (6.76, 0.224),
    (6.92, 0.174), (6.69, 0.132), (6.57, 0.090), (7.85, 0.345), (8.08, 0.317), (8.31, 0.291), (8.66, 0.250),
    (8.78, 0.208), (8.43, 0.183), (8.08, 0.099), (8.36, 0.057),
    (3.44, 0.384), (3.68, 0.375), (3.91, 0.379), (4.14, 0.375), (3.96, 0.358), (3.68, 0.325), (3.49, 0.291),
    (3.33, 0.250), (3.17, 0.199), (3.10, 0.149), (3.21, 0.099), (3.40, 0.057), (3.63, 0.007), (3.86, -0.044),
    (4.14, -0.094), (4.37, -0.127), (4.09, 0.325), (4.26, 0.275), (4.37, 0.224), (4.44, 0.157), (4.37, 0.090),
    (4.49, 0.023), (4.60, -0.010), (4.84, -0.044), (5.07, -0.060), (5.30, -0.044), (5.42, -0.018),
    (5.42, 0.023), (5.42, 0.074), (5.42, 0.124), (5.49, 0.174), (5.42, 0.224), (5.30, 0.283), (5.19, 0.325),
    (5.07, 0.358), (4.72, 0.375), (4.56, 0.392), (4.72, 0.334), (4.88, 0.308), (4.95, 0.250), (5.07, 0.157),
    (5.65, -0.094), (5.53, -0.127), (5.49, -0.161), (5.42, -0.194), (5.65, -0.203), (5.88, -0.194),
    (6.04, -0.169), (6.11, -0.136), (6.00, -0.102), (5.77, -0.069), (5.72, -0.044), (5.88, -0.010),
    (6.11, -0.111), (6.34, -0.094), (6.57, -0.044), (6.00, 0.233), (6.00, 0.124), (6.34, 0.057),
    (1.36, 0.023), (1.54, -0.010), (1.70, -0.044), (1.89, -0.077), (2.05, -0.111), (2.28, -0.136),
    (2.56, -0.161), (2.75, -0.178), (2.86, -0.211), (2.70, -0.077), (2.51, -0.044), (2.28, -0.010),
    (2.05, 0.023), (1.82, 0.057), (1.59, 0.090), (1.47, 0.124), (2.05, 0.107), (2.28, 0.074), (2.51, 0.057),
    (2.75, 0.124), (2.86, 0.090), (2.51, 0.141), (1.59, -0.060), (1.36, -0.085), (1.01, -0.111),
    (0.85, -0.161), (0.62, -0.194), (1.12, -0.010), (0.89, 0.007), (0.66, 0.023), (0.55, 0.049),
    (0.43, 0.074), (1.31, 0.065), (1.47, -0.044), (1.70, -0.111), (1.82, -0.144),
]

# linear fit per panel: y = slope * x + intercept, drawn over fit_xrange
fit_slope = [0.01195, 0.00651, 0.0043, 0.00184]
fit_intercept = [-0.0404, 0.0213, 0.063, 0.0508]
fit_xrange = [(-4.4, 12.7), (-5.0, 10.0), (-4.35, 12.65), (-9.4, 9.9)]
# 95% confidence band on the fitted line: half-width = sqrt(min^2 + (growth*(x-center))^2)
band_center = [3.5, 2.5, 2.75, 2.6]
band_min = [0.003, 0.0025, 0.045, 0.013]
band_growth = [0.00094, 0.000577, 0.01008, 0.0041]

r_values = ['0.7169', '0.6269', '0.0322', '0.0351']
rms_values = ['0.0451', '0.0325', '0.508', '0.201']
x_labels = ['U viento ERA5', 'V viento ERA5', 'U viento ERA5', 'V viento ERA5']
y_labels = ['U corriente FVCOM', 'V corriente FVCOM', 'U corriente FVCOM', 'V corriente FVCOM']
panel_letters = ['a', 'b', 'c', 'd']
x_limits = [(-5, 15), (-5, 15), (-10, 15), (-10, 15)]
y_limits = [(-0.15, 0.2), (-0.15, 0.2), (-0.8, 1.0), (-0.8, 1.0)]
y_steps = [0.05, 0.05, 0.2, 0.2]
point_sets = [u_sup_pts, v_sup_pts, u_fondo_pts, v_fondo_pts]

# ---------------------------------------------------------------- figure
W, H = 907, 869
fig = plt.figure(figsize=(W / 100, H / 100), dpi=100)
boxes = [(67, 28, 425, 386), (539, 28, 898, 386), (67, 462, 425, 820), (540, 462, 898, 820)]
ylabel_x = [-0.112, -0.111, -0.095, -0.097]
xlabel_y = [-0.083, -0.083, -0.077, -0.077]

BLUE = '#0072BD'
AXC = '#8a8a8a'
TXT = '#262626'
FIT = '#ff3030'
BAND = '#ff8080'

fmt = FuncFormatter(lambda v, p: ('%g' % round(v, 6)))

for i in range(4):
    l, t, r, b = boxes[i]
    ax = fig.add_axes([l / W, 1 - b / H, (r - l) / W, (b - t) / H])
    pts = np.array(point_sets[i])
    ax.plot(pts[:, 0], pts[:, 1], '.', ms=4.0, color=BLUE, mew=0, zorder=3)

    xf = np.linspace(fit_xrange[i][0], fit_xrange[i][1], 200)
    yf = fit_slope[i] * xf + fit_intercept[i]
    half = np.sqrt(band_min[i] ** 2 + (band_growth[i] * (xf - band_center[i])) ** 2)
    ax.plot(xf, yf, '-', color=FIT, lw=0.9, zorder=4)
    ax.plot(xf, yf + half, ':', color=BAND, lw=0.9, zorder=4)
    ax.plot(xf, yf - half, ':', color=BAND, lw=0.9, zorder=4)

    ax.set_xlim(*x_limits[i])
    ax.set_ylim(*y_limits[i])
    ax.xaxis.set_major_locator(MultipleLocator(5))
    ax.yaxis.set_major_locator(MultipleLocator(y_steps[i]))
    ax.xaxis.set_major_formatter(fmt)
    ax.yaxis.set_major_formatter(fmt)
    ax.tick_params(direction='in', top=True, right=True, length=4, width=0.6,
                   color=AXC, labelcolor=TXT, labelsize=11, pad=4)
    for s in ax.spines.values():
        s.set_color(AXC)
        s.set_linewidth(0.8)

    ax.set_title('R = %s - RMS = %s (m s$^{\\mathbf{-1}}$)' % (r_values[i], rms_values[i]),
                 fontsize=10.6, fontweight='bold', color='black', pad=4)
    ax.set_xlabel('%s (m s$^{-1}$)' % x_labels[i], fontsize=10.7, color=TXT)
    ax.set_ylabel('%s (m s$^{-1}$)' % y_labels[i], fontsize=10.7, color=TXT)
    ax.xaxis.set_label_coords(0.5, xlabel_y[i])
    ax.yaxis.set_label_coords(ylabel_x[i], 0.5)

    ax.text(0.935, 0.055, panel_letters[i], transform=ax.transAxes, ha='center', va='center',
            fontsize=19, fontweight='bold', color='black')

    handles = [Line2D([], [], ls='none', marker='.', ms=4.5, mew=0, color=BLUE),
               Line2D([], [], ls='-', color=FIT, lw=0.9),
               Line2D([], [], ls=':', color=BAND, lw=0.9)]
    leg = ax.legend(handles, ['Datos ajustados', 'Ajuste', '95% de confianza'],
                    loc='upper left', bbox_to_anchor=(0.017, 0.980), fontsize=8.3,
                    frameon=True, fancybox=False, framealpha=1, edgecolor=AXC,
                    borderpad=0.35, labelspacing=0.3, handlelength=3.0, handletextpad=0.2,
                    borderaxespad=0)
    leg.get_frame().set_linewidth(0.8)
    for txt in leg.get_texts():
        txt.set_color(TXT)

fig.savefig('out.png', dpi=100, facecolor='white')
